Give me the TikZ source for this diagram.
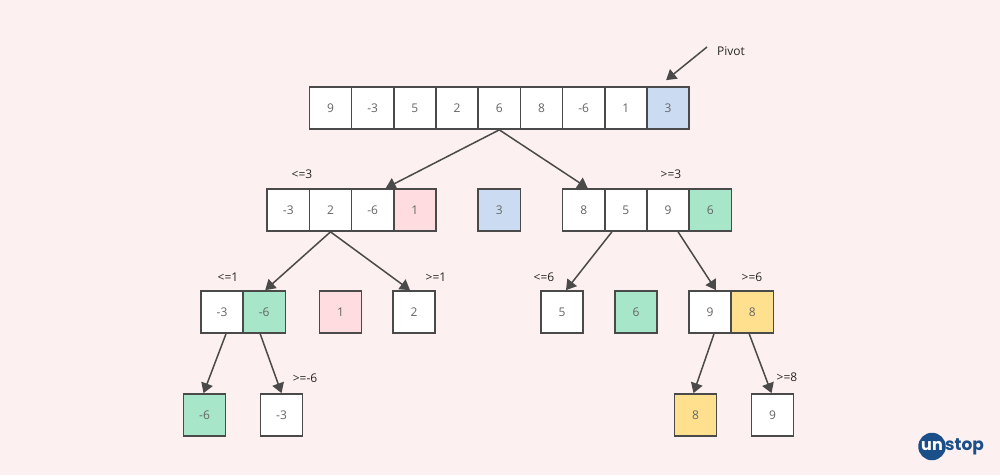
\documentclass[tikz,border=0pt]{standalone}
\usepackage{fontspec}
\setmainfont{Open Sans}
\newfontfamily\logofont[Scale=1]{Poppins}
\usetikzlibrary{arrows.meta}
\definecolor{paper}{HTML}{FDF0F0}
\definecolor{pivotblue}{HTML}{CBDCF2}
\definecolor{leftpink}{HTML}{FFDCE0}
\definecolor{rightgreen}{HTML}{A8E6CA}
\definecolor{nextyellow}{HTML}{FFE08F}
\definecolor{inkgrey}{HTML}{4A4A4A}
\definecolor{logoblue}{HTML}{1B4F8A}
\tikzset{
  cell/.style={draw=inkgrey, fill=white, line width=1.5pt, minimum width=42.2pt, minimum height=42.2pt, inner sep=0pt, text=inkgrey!85, font=\fontsize{12}{14}\selectfont},
  edge/.style={draw=inkgrey, line width=1.5pt, -{Triangle[length=10pt,width=12pt]}},
  bound/.style={inner sep=0pt, text=black!85, font=\fontsize{12}{14}\selectfont}
}

\begin{document}
\begin{tikzpicture}[x=1pt,y=-1pt]
  \useasboundingbox[fill=paper] (0,0) rectangle (1000,475);
  % first row
  \foreach \name/\xx/\val in {a1/330.5/9,a2/372.7/-3,a3/414.9/5,a4/457.1/2,a5/499.3/6,a6/541.5/8,a7/583.7/-6,a8/625.9/1}
    \node[cell] (\name) at (\xx,108) {\val};
  \node[cell, fill=pivotblue] (a9) at (668.1,108) {3};
  \node[bound] (pivot) at (731,51) {Pivot};
  % second row
  \foreach \name/\xx/\val in {b1/288.3/-3,b2/330.5/2,b3/372.7/-6,c2/583.7/8,c3/625.9/5,c4/668.1/9}
    \node[cell] (\name) at (\xx,210) {\val};
  \node[cell, fill=leftpink] (b4) at (414.9,210) {1};
  \node[cell, fill=pivotblue] (mid) at (499.3,210) {3};
  \node[cell, fill=rightgreen] (c5) at (710.3,210) {6};
  \node[bound] at (302,174) (lowtop) {<=3};
  \node[bound] at (671,174) (hightop) {>=3};
  % third row
  \node[cell] (d1) at (222,312) {-3};
  \node[cell, fill=rightgreen] (d2) at (264.2,312) {-6};
  \node[cell, fill=leftpink] (d3) at (340.5,312) {1};
  \node[cell] (d4) at (414,312) {2};
  \node[cell] (e1) at (562,312) {5};
  \node[cell, fill=rightgreen] (e2) at (636,312) {6};
  \node[cell] (e3) at (710,312) {9};
  \node[cell, fill=nextyellow] (e4) at (752.2,312) {8};
  \node[bound] (lowleft) at (228,277) {<=1};
  \node[bound] (highleft) at (436,277) {>=1};
  \node[bound] (lowright) at (544,277) {<=6};
  \node[bound] (highright) at (752,277) {>=6};
  % fourth row
  \node[cell, fill=rightgreen] (f1) at (204.5,415) {-6};
  \node[cell] (f2) at (281.5,415) {-3};
  \node[cell, fill=nextyellow] (g1) at (695.5,415) {8};
  \node[cell] (g2) at (772.5,415) {9};
  \node[bound] (lowest) at (305,378) {>=-6};
  \node[bound] (highest) at (787,377) {>=8};
  % arrows
  \draw[edge] ([xshift=-24pt,yshift=4pt]pivot.center) -- ([xshift=-2pt,yshift=6pt]a9.north);
  \draw[edge] (a5.south) -- ([xshift=13pt]b3.north);
  \draw[edge] (a5.south) -- ([xshift=4pt]c2.north);
  \draw[edge] (b2.south) -- ([xshift=1pt]d2.north);
  \draw[edge] (b2.south) -- ([xshift=-4pt]d4.north);
  \draw[edge] ([xshift=-14pt]c3.south) -- ([xshift=4pt]e1.north);
  \draw[edge] ([xshift=10pt]c4.south) -- ([xshift=6pt]e3.north);
  \draw[edge] ([xshift=4pt]d1.south) -- ([xshift=-1pt]f1.north);
  \draw[edge] ([xshift=-4pt]d2.south) -- (f2.north);
  \draw[edge] ([xshift=4pt]e3.south) -- ([xshift=-2pt]g1.north);
  \draw[edge] ([xshift=-3pt]e4.south) -- ([xshift=-1pt]g2.north);
  % logo
  \node[circle, fill=logoblue, minimum size=27.5pt, inner sep=0pt] (badge) at (932,446.5) {};
  \node[inner sep=0pt, text=white, font=\logofont\bfseries\fontsize{16}{16}\selectfont] (logoun) at (badge.center) {un};
  \node[inner sep=0pt, anchor=west, text=logoblue, font=\logofont\bfseries\fontsize{17}{17}\selectfont] (logostop) at (945,447) {stop};
\end{tikzpicture}
\end{document}
